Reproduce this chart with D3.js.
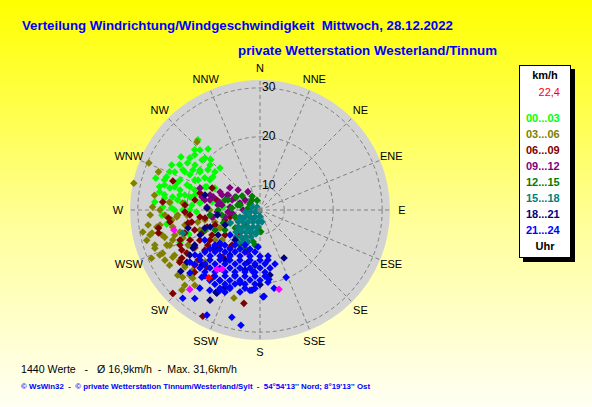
<!DOCTYPE html>
<html>
<head>
<meta charset="utf-8">
<script src="https://cdn.jsdelivr.net/npm/d3@7"></script>
<style>
body { margin: 0; }
svg { display: block; font-family: "Liberation Sans", Arial, sans-serif; }
</style>
</head>
<body>
<svg id="chart" width="592" height="407"></svg>
<script>
// wind directions and speed rings
var windDirs = ["N", "NNE", "NE", "ENE", "E", "ESE", "SE", "SSE", "S", "SSW", "SW", "WSW", "W", "WNW", "NW", "NNW"];
var speedTicks = [10, 20, 30];
var speedDomain = [5.05, 31.6];
var hourRanges = ["00...03", "03...06", "06...09", "09...12", "12...15", "15...18", "18...21", "21...24"];

// readings as [direction in degrees, speed in km/h], one list per 3 hours
var h00 = [[318.5,24.2],[319.6,21.4],[312.7,23.2],[303.9,24.5],[310.8,20.7],[315.6,19.4],[297,25.3],[297.5,22.8],
  [300.8,21],[316.4,16.9],[305,16.8],[287,27.3],[289.5,25.3],[288,22.9],[289,20.8],[295.8,19.1],[293.5,16.9],
  [280.2,25.9],[278.5,23.1],[280.5,19.6],[274.4,26.6],[271.8,24.9],[267,25.1],[279.5,15],[270,20.8],[274.6,12.6],
  [248,22.7],[251.3,20.4],[261.4,24.3],[296.6,21.1],[287,19],[284,21.9],[285,16.7],[283.7,24],[303.7,19.8],
  [303,22.7],[277,22],[300.2,18.1],[296,15.3],[277.2,24.7],[274,19],[294,24.1],[307.6,18.5],[281.3,20.7],
  [271.3,23.1],[276.7,17.4],[284.7,25.2],[310.2,22.5],
  [315,22.4],[306.6,22.9],[313.4,20.5],[299.4,23.9],[304.7,21.2],[312,18.8],[292.9,25.1],[296.9,22.3],
  [302.3,19.6],[310.2,17.1],[287.5,25.5],[290.6,22.5],[294.8,19.7],[301,17],[283,26.1],[285.1,23.1],
  [288.2,20.1],[292.7,17.2],[279,24.8],[280.6,21.7],[283,18.7],[286.7,15.7],[274.4,23.5],[275.3,20.5],
  [276.7,17.4],[270,22.5],[270,19.4],[268.2,18]];
var h03 = [[292.9,29.7],[282,31.4],[278,26.8],[271.6,27],[259.4,29.4],[255,29],[258,27.6],[260.6,26.4],[250,27.9],
  [254,25.3],[249.4,25.4],[246,26.8],[242.2,27],[241.6,25.3],[238,24.4],[232.8,24.3],[228.2,23.5],[229,26],
  [224.3,27.9],[203.6,22.9],[196.5,23.8],[263.5,23.2],[265.2,22.1],[275,23.6],[275.2,20.9],[259.5,19.6],[266,20],
  [254.6,22],[251,23.9],[317.2,24],[290.6,27.2],[251.6,18],[259.7,16.5],[236.3,16.1],[244,21.4],[259,23.2],
  [246,29.3],[270,15.3],[245.8,14],[239.7,20.5],[226.6,20.5],[270,25.5],[224.6,24.6],
  [267.4,27.5],[267,24.5],[262.4,28.1],[261.5,25.7],[258.7,20.7],[257.2,28.1],[255.7,25.7],[253.6,23.2],
  [251.6,27.7],[248.7,24.8],[245.8,27.5],[242.1,24.8],[238.6,26.7],[233.7,24.1],[231.6,26.5],[227.1,24.6],
  [225,26.8],[220.9,25.4],[255.1,14.6],[231.7,14.9],[259,18],[266.5,21.9],[250,21.8]];
var h06 = [[288.4,23.8],[274.7,25],[257.2,26.3],[237,24.6],[226.3,29.7],[208.3,29.7],[189.8,24.4],[253,21.1],
  [246.8,20.6],[239.5,22.4],[231,21.3],[222.9,21],[259.8,20],[263.3,17.4],[252.2,16.4],[283,14.1],[294.6,15.8],
  [285.8,17.8],[228.8,15.9],[240.3,20.4],[218.2,17.3],[215,21.8],[242.9,23],[256.9,11.3],[221,11.3],[249.4,22.5],
  [251.6,14.7],[234.5,13.8],[234,19],[253,19],[218.7,14.2],[239,17],[268.5,20.4],[278.7,18.5],[259.9,26.1],
  [265,23.8],[248.9,17.5],[265.9,19.4],[243.4,18.8],[228.4,17.4],[254,12.5],[246.4,22.9],[229.8,22.5],
  [261.7,16.4],[242.5,16.1],[218.3,14.9],[236,17.9],[273.8,20.4],[260,19.2],[262.4,23.6],[226.4,23.5],[238.4,23.8]];
var h09 = [[294.4,12.4],[297.5,10.8],[280,13.3],[267.3,13.8],[275.7,11.2],[289.3,9.4],[270,8.5],[258.7,12.3],
  [290,18.1],[282.6,17.2],[273.2,15.9],[261.7,15],[254.4,10.3],[197.2,14],[286.7,7.1],[291.5,13.4],[289.7,11.1],
  [285.7,15],[261.5,14.8],[280.3,16.5],[295.6,10.7],[281,13.6],[295.1,12.2],[277.5,12.9],[263.9,10.8],
  [303.7,8.7],[286.7,15.7],[312.3,11.1],[266.4,11.6],[294.2,14],[306.3,12.7],[326.3,9.5],[276.8,13.7],[281.3,15.5]];
var h12 = [[284,9.2],[279.5,7.5],[305,7.5],[254.4,10.3],[246.6,11.7],[244.8,8.9],[192.3,11.7],[186,8.7],[178,9.5],
  [204.4,10],[225,10.8],[250.6,13],[270,13.6],[287.4,11.9],[343,7.1],[298.4,10.6],[240.3,13.3],[264.3,15.3],
  [188,12.3],[201.5,13.4],[212.6,17.2],[250,17],[301,7.4],[274,10.8],[262.5,12.9],[246,15.1],[223,9.3],[321,7.7],
  [234.2,11.3],[209.7,13.3],[307.9,9.7],[282.8,9.7],[285.9,12.5],[330,8.3]];
var h15 = [[290.6,6.75],[315,5.9],[262.4,8.1],[258.7,7.1],[248.2,6.1],[206.6,5.5],[250.7,9.4],[245,8.4],[235,7.5],
  [215.5,6.8],[180,6.4],[241.4,10.1],[234.8,9.3],[225,8.5],[210.3,7.9],[189.5,7.5],[170.5,7.5],[232.3,10.7],
  [225,9.9],[215.2,9.3],[202.4,8.8],[186.7,8.5],[227.5,11.7],[220.8,11],[212.5,10.4],[202.2,9.9],[190.3,9.6],
  [221.6,12.4],[215.1,11.8],[207.4,11.2],[198.4,10.8],[214.5,13],[208,12.4],[200.6,12],[246.6,11.7],[253.4,21.5],
  [251.6,7.6],[242.1,8.9],[217.9,7.3],[226.5,10.7],[207.8,9.5],[189.5,10],[210.4,11.9]];
var h18 = [[153.4,16],[232.3,25.5],[185.7,21.5],[208.2,24.1],[226.5,21.4],[195.3,20.5],[193,16],[215,17.5],
  [241.7,20.2],[230.6,17],[219.8,13],[204.4,22.4],[209,26.1],[207.4,24.2],[285.3,16.7],[272,15.9],[213.7,16.1],
  [194,17.7],[180,20.3],[209.7,21.6],[171.3,18.5],[240.4,20.8],[263.4,13.8],[251.2,15.8],[247.4,18.3],
  [237.3,22.1],[201,19.3],[185.2,16.4],[246.8,12.8],[251.9,16.9],[239.2,15],[256,20.2],[234.5,23.4]];
var h21 = [[232.1,16.7],[225,15.2],[215.5,13.8],[203.2,12.8],
  [232.6,19.2],[227,17.6],[219.8,16.2],[210.8,15],[199.7,14.2],[186.8,13.7],
  [230.2,21],[225,19.5],[218.7,18.1],[211,17],[201.8,16.1],[191.3,15.5],[180,15.3],
  [226,22.1],[220.8,20.7],[214.6,19.5],[207.4,18.4],[199,17.6],[189.8,17.1],[180,16.9],[170.2,17.1],
  [219.8,22.6],[214.3,21.4],[207.9,20.3],[200.7,19.5],[192.8,18.9],[184.3,18.6],[175.7,18.6],
  [211.3,22.8],[205.3,21.8],[198.7,21],[191.5,20.5],[183.9,20.2],[203.1,23.3],[193.7,22.3],
  [189.4,28.9],[194.7,27.7],[206.8,29.1],[221.2,29],[216.4,27.5],[177.3,22.7],[172.6,19.3],[169.8,21.3],
  [158.8,19.8],[170.9,15.4],[183,12.6],[186.4,17.8],[187.1,21.6],[195.5,20.3],[201.3,22],[206.6,23.4],[212,24.4],
  [217.6,25.2],[220.9,23.2],[228,24.3],[241.4,17.9],[235.3,21.2],[233.4,22.9],[178,22.8],[173.7,19.9],
  [230.5,15.7],[230.2,13],
  [232,18],[225.7,16.5],[217.6,15.1],[207.1,14],[194.4,13.3],
  [232.5,20.5],[227.4,18.9],[221,17.5],[213.1,16.3],[203.5,15.3],[192.3,14.7],[180,14.5],[170.1,14.6],
  [230.3,22.4],[225.5,20.8],[219.8,19.4],[213,18.2],[204.8,17.2],[195.5,16.5],[185.3,16.1],[174.7,16.1],[164.5,16.5],
  [221.6,22],[216,20.7],[209.4,19.6],[202,18.7],[193.6,18.1],[184.6,17.8],[175.4,17.8],
  [215.5,22.7],[209.7,21.6],[203.2,20.7],[195.9,20],[188.1,19.5],[180,19.4],
  [207.1,23],[201,22.2],[190.9,21.3],[183.7,21.1]];
var marked = [[257,23.1],[221.5,26.7],[216,20],[212.8,19.4],[166.5,21.7]];
var latest = [[217,22.4]];

var hourData = [h00, h03, h06, h09, h12, h15, h18, h21];
var hourColors = ["#00ff00", "#808000", "#800000", "#800080", "#008000", "#008080", "#000080", "#0000ff"];

var svg = d3.select("#chart");
var cx = 260, cy = 210, R = 130;

// background
var defs = svg.append("defs");
var grad = defs.append("linearGradient").attr("id", "bg").attr("x1", 0).attr("y1", 0).attr("x2", 0).attr("y2", 1);
grad.append("stop").attr("offset", "0%").attr("stop-color", "#ffff00");
grad.append("stop").attr("offset", "55%").attr("stop-color", "#ffff9a");
grad.append("stop").attr("offset", "100%").attr("stop-color", "#fffff4");
svg.append("rect").attr("width", 592).attr("height", 407).attr("fill", "url(#bg)");

// titles
svg.append("text").attr("x", 22).attr("y", 30).attr("textLength", 431).attr("lengthAdjust", "spacingAndGlyphs")
    .style("white-space", "pre").attr("font-size", 13).attr("font-weight", "bold").attr("fill", "#0000ff")
    .text("Verteilung Windrichtung/Windgeschwindigkeit  Mittwoch, 28.12.2022");
svg.append("text").attr("x", 238).attr("y", 55).attr("textLength", 259).attr("lengthAdjust", "spacingAndGlyphs")
    .attr("font-size", 13).attr("font-weight", "bold").attr("fill", "#0000ff")
    .text("private Wetterstation Westerland/Tinnum");

// polar grid
var rScale = d3.scaleLinear().domain(speedDomain).range([0, R]);
var angle = d3.scaleLinear().domain([0, 360]).range([0, 2 * Math.PI]);

var plot = svg.append("g").attr("transform", "translate(" + cx + "," + cy + ")");
plot.append("circle").attr("r", R).attr("fill", "#d3d3d3");

plot.selectAll("line.spoke")
    .data(windDirs)
    .enter()
    .append("line")
    .attr("class", "spoke")
    .attr("x1", function(d, i) { return 6 * Math.sin(angle(i * 22.5)); })
    .attr("y1", function(d, i) { return -6 * Math.cos(angle(i * 22.5)); })
    .attr("x2", function(d, i) { return R * Math.sin(angle(i * 22.5)); })
    .attr("y2", function(d, i) { return -R * Math.cos(angle(i * 22.5)); })
    .attr("stroke", "#808080").attr("stroke-dasharray", "4,3");

plot.selectAll("circle.ring")
    .data(speedTicks)
    .enter()
    .append("circle")
    .attr("class", "ring")
    .attr("r", function(d) { return rScale(d); })
    .attr("fill", "none").attr("stroke", "#808080").attr("stroke-dasharray", "4,3");

plot.selectAll("text.ring")
    .data(speedTicks)
    .enter()
    .append("text")
    .attr("class", "ring")
    .attr("x", 2)
    .attr("y", function(d) { return -rScale(d) + 3; })
    .attr("font-size", 12).attr("fill", "#000")
    .text(function(d) { return d; });

plot.selectAll("text.dir")
    .data(windDirs)
    .enter()
    .append("text")
    .attr("class", "dir")
    .attr("x", function(d, i) { return 142 * Math.sin(angle(i * 22.5)); })
    .attr("y", function(d, i) { return -142 * Math.cos(angle(i * 22.5)) + 4; })
    .attr("text-anchor", "middle").attr("font-size", 11).attr("fill", "#000")
    .text(function(d) { return d; });

// points
var diamond = "M0,-3.8L3.8,0L0,3.8L-3.8,0Z";
function px(d) { return rScale(d[1]) * Math.sin(angle(d[0])); }
function py(d) { return -rScale(d[1]) * Math.cos(angle(d[0])); }

hourData.forEach(function(pts, k) {
    plot.append("g").selectAll("path")
        .data(pts)
        .enter()
        .append("path")
        .attr("d", diamond)
        .attr("transform", function(d) { return "translate(" + px(d) + "," + py(d) + ")"; })
        .attr("fill", hourColors[k]);
});
plot.append("g").selectAll("path").data(marked).enter().append("path")
    .attr("d", diamond)
    .attr("transform", function(d) { return "translate(" + px(d) + "," + py(d) + ")"; })
    .attr("fill", "#ff00ff");
plot.append("g").selectAll("path").data(latest).enter().append("path")
    .attr("d", diamond)
    .attr("transform", function(d) { return "translate(" + px(d) + "," + py(d) + ")"; })
    .attr("fill", "#ff0000");
plot.append("rect").attr("x", -2.5).attr("y", -2.5).attr("width", 5).attr("height", 5).attr("fill", "#808080");

// legend
var lg = svg.append("g");
lg.append("rect").attr("x", 523).attr("y", 69).attr("width", 52).attr("height", 193).attr("fill", "#000");
lg.append("rect").attr("x", 519.5).attr("y", 65.5).attr("width", 51).attr("height", 192)
    .attr("fill", "#fff").attr("stroke", "#000");
lg.append("text").attr("x", 545).attr("y", 79).attr("text-anchor", "middle")
    .attr("font-size", 11).attr("font-weight", "bold").text("km/h");
lg.append("text").attr("x", 560).attr("y", 96).attr("text-anchor", "end")
    .attr("font-size", 11).attr("fill", "#ff0000").text(latest[0][1].toString().replace(".", ","));
lg.selectAll("text.hour")
    .data(hourRanges)
    .enter()
    .append("text")
    .attr("class", "hour")
    .attr("x", 526)
    .attr("y", function(d, i) { return 122 + 16 * i; })
    .attr("font-size", 11).attr("font-weight", "bold")
    .attr("fill", function(d, i) { return hourColors[i]; })
    .text(function(d) { return d; });
lg.append("text").attr("x", 545).attr("y", 250).attr("text-anchor", "middle")
    .attr("font-size", 11).attr("font-weight", "bold").text("Uhr");

// footer
svg.append("text").attr("x", 21).attr("y", 373).attr("textLength", 216).attr("lengthAdjust", "spacingAndGlyphs")
    .style("white-space", "pre").attr("font-size", 11).attr("fill", "#000")
    .text("1440 Werte   -   \u00d8 16,9km/h  -  Max. 31,6km/h");
svg.append("text").attr("x", 21).attr("y", 389).attr("textLength", 349).attr("lengthAdjust", "spacingAndGlyphs")
    .style("white-space", "pre").attr("font-size", 8).attr("font-weight", "bold").attr("fill", "#0000ff")
    .text("\u00a9 WsWin32  -  \u00a9 private Wetterstation Tinnum/Westerland/Sylt  -  54\u00b054'13'' Nord; 8\u00b019'13'' Ost");
</script>
</body>
</html>
